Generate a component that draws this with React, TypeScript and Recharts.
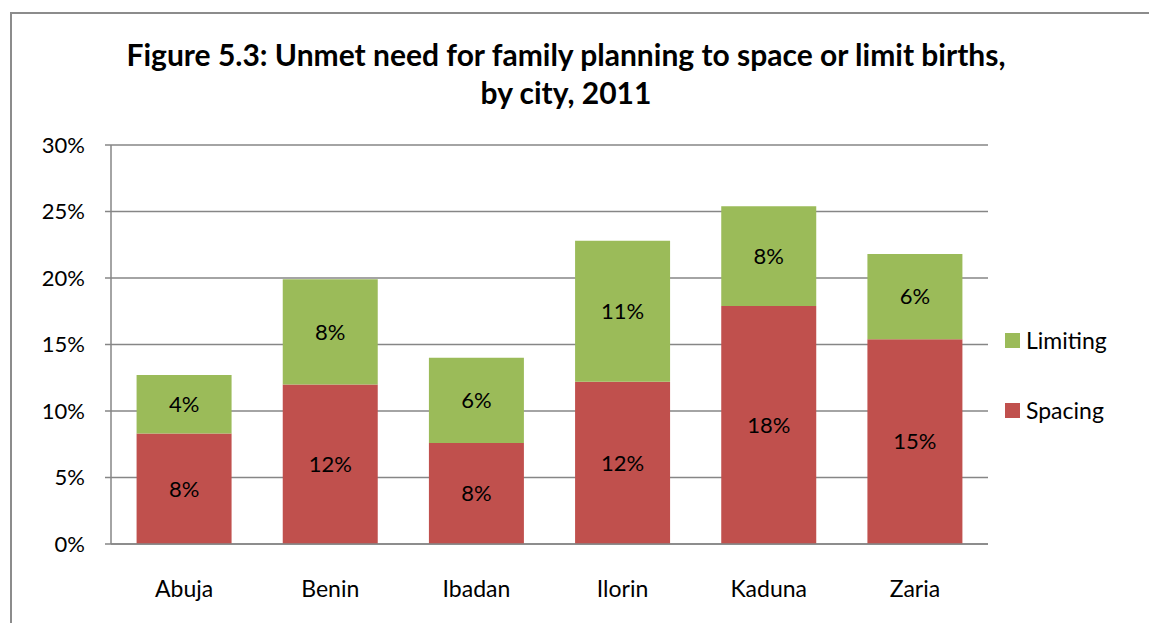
import { BarChart, Bar, XAxis, YAxis, CartesianGrid, LabelList } from 'recharts';

const cities = ['Abuja', 'Benin', 'Ibadan', 'Ilorin', 'Kaduna', 'Zaria'];
const spacing = [8.3, 12.0, 7.6, 12.2, 17.9, 15.4];
const limiting = [4.4, 7.9, 6.4, 10.6, 7.5, 6.4];
const yTicks = [0, 5, 10, 15, 20, 25, 30];

const SPACING_COLOR = '#C0504D';
const LIMITING_COLOR = '#9BBB59';
const GRID = '#868686';
const FONT = 'Lato, "Open Sans", sans-serif';

const chartData = cities.map((city, i) => ({
  city,
  spacing: spacing[i],
  limiting: limiting[i],
}));

const legendItems = [
  { name: 'Limiting', color: LIMITING_COLOR },
  { name: 'Spacing', color: SPACING_COLOR },
];

const pct = (v: any) => `${Math.round(Number(v))}%`;

export default function App() {
  return (
    <div style={{ position: 'absolute', left: 0, top: 0, width: 1149, height: 623, background: '#fff', overflow: 'hidden' }}>
      <div
        style={{
          position: 'absolute',
          left: 10,
          top: 12,
          width: 1200,
          height: 700,
          borderLeft: '2px solid #8c8c8c',
          borderTop: '2px solid #8c8c8c',
        }}
      />
      <div
        style={{
          position: 'absolute',
          left: 0,
          top: 35,
          width: 1132,
          textAlign: 'center',
          fontFamily: FONT,
          fontWeight: 700,
          fontSize: 30,
          lineHeight: '38px',
          color: '#000',
        }}
      >
        Figure 5.3: Unmet need for family planning to space or limit births,
        <br />
        by city, 2011
      </div>
      <div style={{ position: 'absolute', left: 0, top: 0 }}>
        <BarChart
          width={1149}
          height={623}
          data={chartData}
          margin={{ top: 145, right: 161, left: 0, bottom: 0 }}
          barCategoryGap="17.5%"
        >
          <CartesianGrid vertical={false} stroke={GRID} strokeWidth={1.5} />
          <XAxis
            dataKey="city"
            height={79}
            axisLine={{ stroke: GRID, strokeWidth: 1.5 }}
            tickLine={false}
            tickMargin={31}
            tick={{ fill: '#000', fontSize: 23, fontFamily: FONT }}
          />
          <YAxis
            width={111}
            domain={[0, 30]}
            ticks={yTicks}
            interval={0}
            tickFormatter={(v: number) => `${v}%`}
            axisLine={{ stroke: GRID, strokeWidth: 1.5 }}
            tickLine={{ stroke: GRID, strokeWidth: 1.5 }}
            tickSize={6}
            tickMargin={20}
            tick={{ fill: '#000', fontSize: 22, fontFamily: FONT }}
          />
          <Bar dataKey="spacing" name="Spacing" stackId="a" fill={SPACING_COLOR} isAnimationActive={false}>
            <LabelList dataKey="spacing" position="center" formatter={pct} fill="#000" fontSize={22} fontFamily={FONT} />
          </Bar>
          <Bar dataKey="limiting" name="Limiting" stackId="a" fill={LIMITING_COLOR} isAnimationActive={false}>
            <LabelList dataKey="limiting" position="center" formatter={pct} fill="#000" fontSize={22} fontFamily={FONT} />
          </Bar>
        </BarChart>
      </div>
      <div style={{ position: 'absolute', left: 1005, top: 324, fontFamily: FONT, fontSize: 23, color: '#000' }}>
        {legendItems.map(item => (
          <div key={item.name} style={{ display: 'flex', alignItems: 'center', height: 32, marginBottom: 38 }}>
            <span style={{ width: 15, height: 15, background: item.color, display: 'inline-block', marginRight: 6 }} />
            <span>{item.name}</span>
          </div>
        ))}
      </div>
    </div>
  );
}
